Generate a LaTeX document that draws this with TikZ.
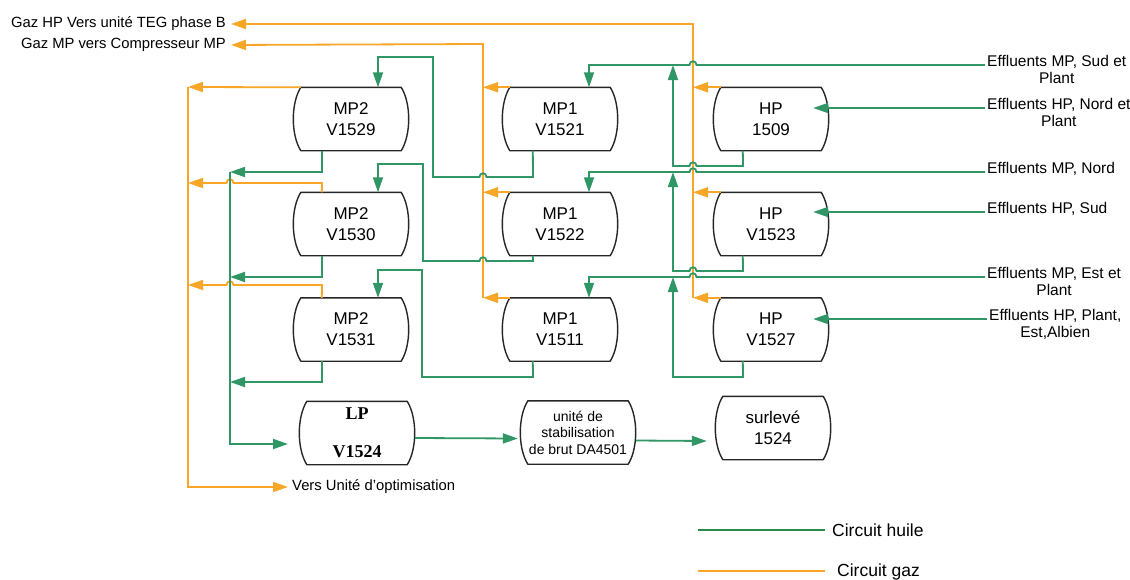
\documentclass[tikz,border=0pt]{standalone}
\usepackage{fontspec}
\setmainfont{Liberation Sans}
\newfontfamily\lpserif{Liberation Serif}
\usetikzlibrary{arrows.meta,calc}
\definecolor{oilc}{RGB}{48,150,102}
\definecolor{gasc}{RGB}{247,166,40}
\definecolor{legoilc}{RGB}{40,140,72}
\begin{document}
\begin{tikzpicture}[x=1pt,y=-1pt,
  vessel/.style={minimum width=100pt,minimum height=63pt,inner sep=0pt,align=center,font=\fontsize{17}{21}\selectfont},
  vline/.style={draw=black!85,line width=1.4pt,line join=round},
  oil/.style={draw=oilc,line width=1.8pt},
  gas/.style={draw=gasc,line width=1.8pt},
  arr/.style={-{Triangle[length=15pt,width=10pt]}},
  lab/.style={inner sep=0pt,font=\fontsize{14.8}{17}\selectfont},
  eff/.style={inner sep=0pt,align=center,anchor=north west,font=\fontsize{15.5}{17}\selectfont},
  leg/.style={inner sep=0pt,anchor=west,font=\fontsize{17.5}{20}\selectfont}]
\useasboundingbox (0,0) rectangle (1130,579);

% vessels
\node[vessel] (v1529) at (351,119) {MP2\\V1529};
\node[vessel] (v1530) at (351,224) {MP2\\V1530};
\node[vessel] (v1531) at (351,329.5) {MP2\\V1531};
\node[vessel] (v1521) at (560,119) {MP1\\V1521};
\node[vessel] (v1522) at (560,224) {MP1\\V1522};
\node[vessel] (v1511) at (560,329.5) {MP1\\V1511};
\node[vessel] (v1509) at (771,119) {HP\\1509};
\node[vessel] (v1523) at (771,224) {HP\\V1523};
\node[vessel] (v1527) at (771,329.5) {HP\\V1527};
\node[vessel,font=\lpserif\bfseries\fontsize{18}{38}\selectfont] (v1524) at (357,433) {LP\\V1524};
\node[vessel,font=\fontsize{14}{16.5}\selectfont] (stab) at (578,432.5) {unité de\\stabilisation\\de brut DA4501};
\node[vessel] (surl) at (773,428) {surlevé\\1524};

\foreach \n in {v1529,v1530,v1531,v1521,v1522,v1511,v1509,v1523,v1527,v1524,stab,surl}
  \draw[vline] (\n.north west) -- (\n.north east) .. controls +(10,16) and +(10,-16) .. (\n.south east) -- (\n.south west) .. controls +(-10,-16) and +(-10,16) .. (\n.north west) -- cycle;

% labels
\node[lab,anchor=east] (gazhp) at (226,24) {Gaz HP Vers unité TEG phase B};
\node[lab,anchor=east] (gazmp) at (226,45) {Gaz MP vers Compresseur MP};
\node[lab,anchor=west] (opt) at (292,487) {Vers Unité d’optimisation};
\node[eff] (e1) at (987,55) {Effluents MP, Sud et\\Plant};
\node[eff] (e2) at (987,98) {Effluents HP, Nord et\\Plant};
\node[eff] (e3) at (987,162) {Effluents MP, Nord};
\node[eff] (e4) at (987,202) {Effluents HP, Sud};
\node[eff] (e5) at (987,267) {Effluents MP, Est et\\Plant};
\node[eff] (e6) at (989,309) {Effluents HP, Plant,\\Est,Albien};

% coordinates
\coordinate (hpx) at (693,24);
\coordinate (mpx) at (483,44);
\coordinate (lgx) at (188,87);
\coordinate (lgb) at (188,487);
\coordinate (gox) at (230,172);
\coordinate (gob) at (230,444);
\coordinate (lpin) at (288,444);
\coordinate (s1) at (985,65);
\coordinate (s2) at (985,108);
\coordinate (s3) at (985,172);
\coordinate (s4) at (985,212);
\coordinate (s5) at (985,277);
\coordinate (s6) at (987,319);

% gas circuits
\draw[gas,arr,shorten >=5pt] (hpx |- v1527.north) -- (hpx) -- (gazhp.east);
\foreach \n in {v1509,v1523,v1527} \draw[gas,arr] (\n.north west) -- (\n.north west -| hpx);
\draw[gas,arr,shorten >=5pt] (mpx |- v1511.north) -- (mpx) -- (gazmp.east);
\foreach \n in {v1521,v1522,v1511} \draw[gas,arr] (\n.north west) -- (\n.north west -| mpx);
\draw[gas,arr] (v1529.north west) -- (lgx);
\draw[gas,arr,shorten >=4pt] (lgx) -- (lgb) -- (opt.west);
\draw[gas,arr] ($(v1530.north west)+(21,0)$) -- (322,183) -- (233.5,183) .. controls (233.5,178) and (226.5,178) .. (226.5,183) -- (188,183);
\draw[gas,arr] ($(v1531.north west)+(21,0)$) -- (322,285) -- (233.5,285) .. controls (233.5,280) and (226.5,280) .. (226.5,285) -- (188,285);

% oil: MP2 outlets to LP
\draw[oil,arr] ($(v1529.south west)+(21,0)$) |- (gox);
\draw[oil,arr] ($(v1530.south west)+(21,0)$) |- (230,277);
\draw[oil,arr] ($(v1531.south west)+(21,0)$) |- (230,382);
\draw[oil,arr] (gox) -- (gob) -- (lpin);

% oil: MP1 outlets to MP2
\draw[oil,arr] ($(v1521.south west)+(23,0)$) -- (533,177) -- (486.5,177) .. controls (486.5,172) and (479.5,172) .. (479.5,177) -- (433,177) -- (433,57) -- (378,57) -- ($(v1529.north)+(27,0)$);
\draw[oil,arr] ($(v1522.south west)+(23,0)$) -- (533,261) -- (486.5,261) .. controls (486.5,256) and (479.5,256) .. (479.5,261) -- (423,261) -- (423,164) -- (378,164) -- ($(v1530.north)+(27,0)$);
\draw[oil,arr] ($(v1511.south west)+(23,0)$) -- (533,377) -- (422,377) -- (422,270) -- (378,270) -- ($(v1531.north)+(27,0)$);

% oil: HP outlets to MP lines
\draw[oil,arr] ($(v1509.south west)+(22,0)$) -- (743,166) -- (696.5,166) .. controls (696.5,161) and (689.5,161) .. (689.5,166) -- (673,166) -- (673,65);
\draw[oil,arr] ($(v1523.south west)+(22,0)$) -- (743,271) -- (696.5,271) .. controls (696.5,266) and (689.5,266) .. (689.5,271) -- (673,271) -- (673,172);
\draw[oil,arr] ($(v1527.south west)+(22,0)$) -- (743,377) -- (673,377) -- (673,277);

% oil: effluents MP
\draw[oil,arr] (s1) -- (696.5,65) .. controls (696.5,60) and (689.5,60) .. (689.5,65) -- (589,65) -- ($(v1521.north)+(29,0)$);
\draw[oil,arr] (s3) -- (696.5,172) .. controls (696.5,167) and (689.5,167) .. (689.5,172) -- (589,172) -- ($(v1522.north)+(29,0)$);
\draw[oil,arr] (s5) -- (696.5,277) .. controls (696.5,272) and (689.5,272) .. (689.5,277) -- (589,277) -- ($(v1511.north)+(29,0)$);

% oil: effluents HP
\draw[oil,arr,shorten >=-8pt] (s2) -- (s2 -| v1509.east);
\draw[oil,arr,shorten >=-8pt] (s4) -- (s4 -| v1523.east);
\draw[oil,arr,shorten >=-8pt] (s6) -- (s6 -| v1527.east);

% oil: LP -> stabilisation -> surleve
\draw[oil,arr] ($(v1524.east)+(8,5)$) -- ($(stab.west)+(-10,6)$);
\draw[oil,arr] ($(stab.east)+(8,8)$) -- ($(surl.west)+(-16,13)$);

% legend
\node[leg] (lh) at (832,530) {Circuit huile};
\node[leg] (lgz) at (837,572) {Circuit gaz};
\draw[draw=legoilc,line width=1.8pt] ($(lh.west)+(-134,0)$) -- ($(lh.west)+(-7,0)$);
\draw[gas] ($(lgz.west)+(-139,-1)$) -- ($(lgz.west)+(-12,-1)$);
\end{tikzpicture}
\end{document}
